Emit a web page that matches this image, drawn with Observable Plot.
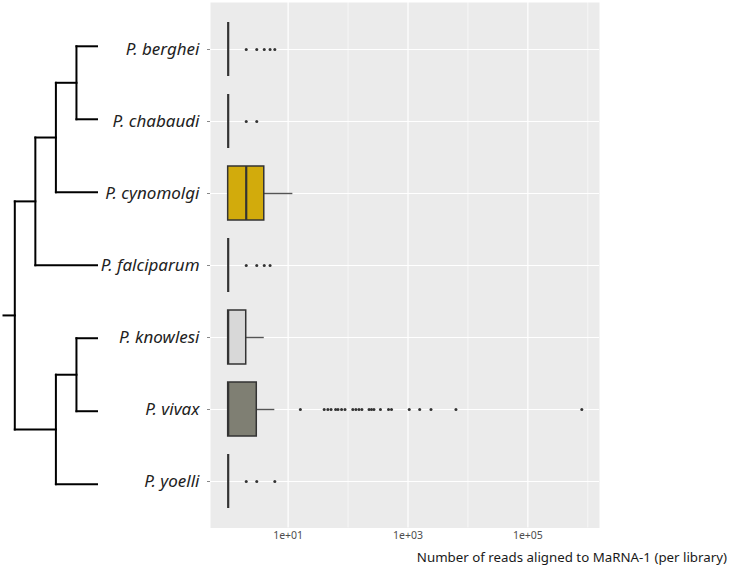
<!DOCTYPE html>
<html><head><meta charset="utf-8">
<script src="https://cdn.jsdelivr.net/npm/d3@7"></script>
<script src="https://cdn.jsdelivr.net/npm/@observablehq/plot@0.6"></script>
<style>
body{margin:0;background:#fff;}
#wrap{position:relative;width:731px;height:571px;font-family:"Noto Sans",sans-serif;overflow:hidden;}
#wrap svg{position:absolute;left:0;top:0;background:transparent;}
#title{position:absolute;right:4px;top:548px;font-size:13.3px;color:#1a1a1a;white-space:nowrap;font-family:"Noto Sans",sans-serif;}
</style></head><body>
<div id="wrap"><div id="title">Number of reads aligned to MaRNA-1 (per library)</div></div>
<script>
// ---- data ----
const species = ["P. berghei","P. chabaudi","P. cynomolgi","P. falciparum","P. knowlesi","P. vivax","P. yoelli"];
const q1 = [1,1,1,1,1,1,1];
const medians = [1,1,2,1,1,1,1];
const q3 = [1,1,4,1,2,3,1];
const whiskerHigh = [1,1,12,1,4,6,1];
const outliers = [
  [2,3,4,5,6],
  [2,3],
  [],
  [2,3,4,5],
  [],
  [16,40,46,52,62,68,78,89,120,135,152,170,224,246,270,347,473,531,1050,1567,2417,6310,794000],
  [2,3,6]
];
const boxFills = ["#ffffff","#ffffff","#d2ab0c","#ffffff","#d8d8d8","#7f7f73","#ffffff"];
const xTickValues = [10, 1000, 100000];
const xTickLabels = ["1e+01","1e+03","1e+05"];
const xMinorValues = [100, 10000, 1000000];

// tree: ((((berghei,chabaudi),cynomolgi),falciparum),((knowlesi,vivax),yoelli))
const treeNodes   = ["root","left","leftA","leftB","right","rightA", ...species];
const treeParents = [null,"root","left","leftA","root","right",
                     "leftB","leftB","leftA","left","rightA","rightA","right"];
const rootEdge = 0.55;

// ---- build tables ----
const boxes = species.map((s,i)=>({species:s, q1:q1[i], med:medians[i], q3:q3[i], hi:whiskerHigh[i], fill:boxFills[i]}));
const outPts = species.flatMap((s,i)=>outliers[i].map(v=>({species:s, value:v})));

const parentOf = new Map(treeNodes.map((n,i)=>[n, treeParents[i]]));
const children = new Map(treeNodes.map(n=>[n, treeNodes.filter(c=>parentOf.get(c)===n)]));
const heightOf = n => children.get(n).length ? 1 + d3.max(children.get(n), heightOf) : 0;
const H = heightOf("root");
const yOf = n => children.get(n).length ? d3.mean(children.get(n), yOf) : species.indexOf(n);
const pos = new Map(treeNodes.map(n=>[n, {x: H - heightOf(n), y: yOf(n)}]));
const segs = [];
for (const n of treeNodes) {
  const p = parentOf.get(n), c = children.get(n);
  if (p) segs.push({x1: pos.get(p).x, x2: pos.get(n).x, y1: pos.get(n).y, y2: pos.get(n).y});
  if (c.length) {
    const ys = c.map(k=>pos.get(k).y);
    segs.push({x1: pos.get(n).x, x2: pos.get(n).x, y1: d3.min(ys), y2: d3.max(ys)});
  }
}
segs.push({x1: -rootEdge, x2: 0, y1: pos.get("root").y, y2: pos.get("root").y});

const W = 731, HT = 571, MT = 2, MB = 43.5;

const boxPlot = Plot.plot({
  width: W, height: HT,
  marginLeft: 210, marginRight: 132, marginTop: MT, marginBottom: MB,
  style: {fontFamily: "'Noto Sans', sans-serif", background: "transparent"},
  x: {type: "log", domain: [10 ** -0.295, 10 ** 6.195]},
  y: {type: "band", domain: species, paddingInner: 0.25, paddingOuter: 0.225},
  marks: [
    Plot.frame({fill: "#ebebeb", stroke: null}),
    Plot.ruleX(xMinorValues, {stroke: "#ffffff", strokeWidth: 0.6}),
    Plot.ruleX(xTickValues, {stroke: "#ffffff", strokeWidth: 1.2}),
    Plot.ruleY(species, {y: d => d, stroke: "#ffffff", strokeWidth: 1.2}),
    Plot.ruleY(boxes.filter(d => d.hi > d.q3), {y: "species", x1: "q3", x2: "hi", stroke: "#555", strokeWidth: 1.4}),
    Plot.barX(boxes, {y: "species", x1: "q1", x2: "q3", fill: "fill", stroke: "#333", strokeWidth: 1.5}),
    Plot.tickX(boxes, {y: "species", x: "med", stroke: "#333", strokeWidth: 2.2}),
    Plot.dot(outPts, {y: "species", x: "value", r: 1.5, fill: "#333", stroke: null}),
    Plot.axisX({ticks: xTickValues, tickFormat: d => xTickLabels[xTickValues.indexOf(d)], tickSize: 0, tickPadding: 4, fontSize: 10.5, fill: "#4d4d4d", label: null}),
    Plot.axisY({tickSize: 3, tickPadding: 8, fontSize: 17, fontStyle: "italic", stroke: "#888", fill: "#222", label: null})
  ]
});

const treePlot = Plot.plot({
  width: 100, height: HT,
  marginLeft: 0, marginRight: 0, marginTop: MT, marginBottom: MB,
  style: {background: "transparent"},
  x: {domain: [-rootEdge, H], range: [3, 96.5], axis: null},
  y: {domain: [-0.6, species.length - 1 + 0.6], reverse: true, axis: null},
  marks: [
    Plot.link(segs, {x1: "x1", y1: "y1", x2: "x2", y2: "y2", stroke: "#000", strokeWidth: 2, strokeLinecap: "square"})
  ]
});

const wrap = document.getElementById("wrap");
wrap.appendChild(boxPlot);
wrap.appendChild(treePlot);
</script>
</body></html>
